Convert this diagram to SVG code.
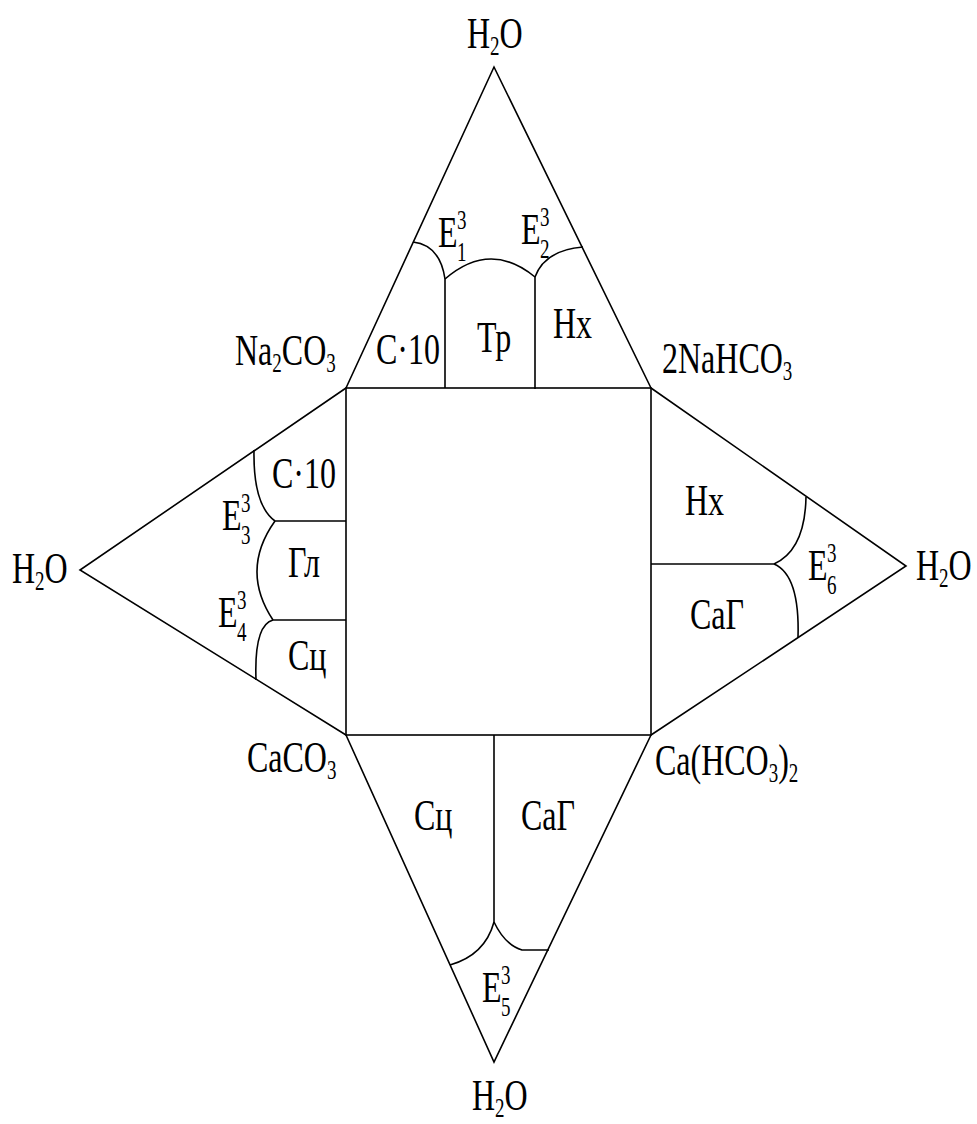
<svg xmlns="http://www.w3.org/2000/svg" width="977" height="1124" viewBox="0 0 977 1124">
<style>
.ln{fill:none;stroke:#000;stroke-width:1.6;stroke-linejoin:miter}
text{font-family:'Liberation Serif','DejaVu Serif',serif;font-size:32px;fill:#000}
.s{font-size:19px}
</style>
<rect width="977" height="1124" fill="#fff"/>
<g id="frame">
<rect class="ln" x="346" y="388" width="305" height="347"/>
<polyline class="ln" points="346,388 494,67 651,388"/>
<polyline class="ln" points="346,388 80,570 346,735"/>
<polyline class="ln" points="651,388 906,566 651,735"/>
<polyline class="ln" points="346,735 494,1062 651,735"/>
</g>
<g id="connectors">
<path class="ln" d="M445,388 V279 M535,389 V277"/>
<path class="ln" d="M413,242 Q440,245 445,279"/>
<path class="ln" d="M445,279 Q490,240 535,277"/>
<path class="ln" d="M535,277 Q545,250 583,247"/>
<path class="ln" d="M346,521 H275 M346,620 H273"/>
<path class="ln" d="M254,450 Q253,505 275,521"/>
<path class="ln" d="M275,521 Q240,570 273,620"/>
<path class="ln" d="M273,620 Q254,625 256,680"/>
<path class="ln" d="M651,564 H774"/>
<path class="ln" d="M774,564 Q805,550 806,497"/>
<path class="ln" d="M774,564 Q800,575 798,638"/>
<path class="ln" d="M494,735 V922"/>
<path class="ln" d="M494,922 Q485,955 450,965"/>
<path class="ln" d="M494,922 Q505,945 522,950 L549,950"/>
</g>
<g id="vertices" font-family="Liberation Serif, serif">
<text transform="translate(467,48) scale(1,1.4)">H<tspan class="s" dy="5">2</tspan><tspan dy="-5">O</tspan></text>
<text transform="translate(12,583) scale(1,1.4)">H<tspan class="s" dy="5">2</tspan><tspan dy="-5">O</tspan></text>
<text transform="translate(916,580) scale(1,1.4)">H<tspan class="s" dy="5">2</tspan><tspan dy="-5">O</tspan></text>
<text transform="translate(472,1110) scale(1,1.4)">H<tspan class="s" dy="5">2</tspan><tspan dy="-5">O</tspan></text>
<text transform="translate(235,365) scale(1,1.4)">Na<tspan class="s" dy="5">2</tspan><tspan dy="-5">CO</tspan><tspan class="s" dy="5">3</tspan></text>
<text transform="translate(662,373) scale(1,1.4)">2NaHCO<tspan class="s" dy="5">3</tspan></text>
<text transform="translate(247,772) scale(1,1.4)">CaCO<tspan class="s" dy="5">3</tspan></text>
<text transform="translate(655,775) scale(1,1.4)">Ca(HCO<tspan class="s" dy="5">3</tspan><tspan dy="-5">)</tspan><tspan class="s" dy="5">2</tspan></text>
</g>
<g id="fields">
<text transform="translate(376,364) scale(1,1.4)">С·10</text>
<text transform="translate(477,352) scale(1,1.4)">Тр</text>
<text transform="translate(553,338) scale(1,1.4)">Нх</text>
<text transform="translate(272,488) scale(1,1.4)">С·10</text>
<text transform="translate(288,577) scale(1,1.4)">Гл</text>
<text transform="translate(288,670) scale(1,1.4)">Сц</text>
<text transform="translate(685,515) scale(1,1.4)">Нх</text>
<text transform="translate(690,629) scale(1,1.4)">СаГ</text>
<text transform="translate(414,830) scale(1,1.4)">Сц</text>
<text transform="translate(521,830) scale(1,1.4)">СаГ</text>
</g>
<g id="eutectics">
<text transform="translate(438,247) scale(1,1.4)">E<tspan class="s" x="19" y="-13">3</tspan><tspan class="s" x="19" y="10">1</tspan></text>
<text transform="translate(521,244) scale(1,1.4)">E<tspan class="s" x="19" y="-13">3</tspan><tspan class="s" x="19" y="10">2</tspan></text>
<text transform="translate(222,530) scale(1,1.4)">E<tspan class="s" x="19" y="-13">3</tspan><tspan class="s" x="19" y="10">3</tspan></text>
<text transform="translate(218,627) scale(1,1.4)">E<tspan class="s" x="19" y="-13">3</tspan><tspan class="s" x="19" y="10">4</tspan></text>
<text transform="translate(482,1002) scale(1,1.4)">E<tspan class="s" x="19" y="-13">3</tspan><tspan class="s" x="19" y="10">5</tspan></text>
<text transform="translate(808,580) scale(1,1.4)">E<tspan class="s" x="19" y="-13">3</tspan><tspan class="s" x="19" y="10">6</tspan></text>
</g>
</svg>
